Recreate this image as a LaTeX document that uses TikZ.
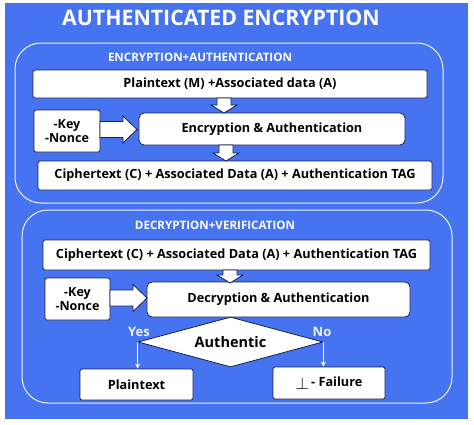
\documentclass[tikz,border=0pt]{standalone}
\usepackage{fontspec}
\setmainfont{Open Sans}
\usetikzlibrary{shapes.geometric,arrows.meta,calc}
\definecolor{bgblue}{RGB}{70,115,240}
\definecolor{navy}{RGB}{25,30,75}
\newcommand\blkdown[3]{% x, ytop, ybottom
  \pgfmathsetmacro\hy{#3-8}
  \draw[blk] (#1-7,#2) -- (#1+7,#2) -- (#1+7,\hy) -- (#1+13,\hy) -- (#1,#3)
    -- (#1-13,\hy) -- (#1-7,\hy) -- cycle;}
\newcommand\blkright[3]{% y, xleft, xright
  \pgfmathsetmacro\hx{#3-14}
  \draw[blk] (#2,#1-8) -- (\hx,#1-8) -- (\hx,#1-13.5) -- (#3,#1) -- (\hx,#1+13.5)
    -- (\hx,#1+8) -- (#2,#1+8) -- cycle;}
\begin{document}
\begin{tikzpicture}[x=1pt,y=-1pt,
  box/.style={draw=navy, fill=white, line width=0.8pt, rounded corners=1.5pt, inner sep=0pt,
    font=\bfseries\fontsize{12.7}{15}\selectfont, text=black, align=center},
  rbox/.style={box, rounded corners=5pt},
  frame/.style={draw=white!92!bgblue, line width=1pt, rounded corners=26pt},
  title/.style={text=white, font=\bfseries\fontsize{21.3}{25}\selectfont, inner sep=0pt},
  subtitle/.style={text=white, font=\bfseries\fontsize{11.6}{14}\selectfont, inner sep=0pt},
  label/.style={text=white!90!bgblue, font=\bfseries\fontsize{13}{15}\selectfont, inner sep=0pt},
  blk/.style={draw=navy, fill=white, line width=0.8pt, line join=miter},
  thin/.style={draw=white, line width=1.4pt, -{Stealth[length=5pt,width=5pt]}}
]
\useasboundingbox (0,0) rectangle (474,424);
\fill[white] (0,0) rectangle (474,424);
\fill[bgblue] (5,3) rectangle (468,419);

\node[title] (ttl) at (221,18) {AUTHENTICATED ENCRYPTION};

% upper frame
\draw[frame] (15,43) rectangle (443,203);
\node[subtitle] (enclbl) at (200,57) {ENCRYPTION+AUTHENTICATION};
\node[box, minimum width=394pt, minimum height=28pt] (plain) at (230,84) {Plaintext (M) +Associated data (A)};
\node[box, minimum width=66pt, minimum height=42pt, font=\bfseries\fontsize{12.5}{14}\selectfont] (key1) at (67,131) {-Key\\-Nonce};
\node[rbox, minimum width=266pt, minimum height=32pt] (enc) at (272,129) {Encryption \& Authentication};
\node[box, minimum width=394pt, minimum height=29pt] (ciph1) at (235,175.5) {Ciphertext (C) + Associated Data (A) + Authentication TAG};
\blkdown{224}{98}{113}
\blkdown{226}{145}{161}
\blkright{129.5}{100}{137}

% lower frame
\draw[frame] (22,210) rectangle (452,403);
\node[subtitle] (declbl) at (215,225) {DECRYPTION+VERIFICATION};
\node[box, minimum width=387pt, minimum height=30pt] (ciph2) at (236.5,255) {Ciphertext (C) + Associated Data (A) + Authentication TAG};
\node[box, minimum width=65pt, minimum height=42pt, font=\bfseries\fontsize{12.5}{14}\selectfont] (key2) at (77.5,299) {-Key\\-Nonce};
\node[rbox, minimum width=263pt, minimum height=35pt] (dec) at (278.5,299.5) {Decryption \& Authentication};
\blkdown{230}{270}{283}
\blkright{298}{110}{147}
\node[diamond, draw=navy, fill=white, line width=0.8pt, aspect=3.7, inner sep=0pt,
  minimum width=185pt, minimum height=50pt, font=\bfseries\fontsize{14.5}{17}\selectfont] (auth) at (230.5,342) {Authentic};
\node[box, minimum width=113pt, minimum height=31pt] (pout) at (136.5,384.5) {Plaintext};
\node[box, minimum width=112pt, minimum height=32pt] (fail) at (329,383) {\raisebox{-3pt}{\fontsize{18}{18}\selectfont$\perp$}\,- Failure};
\draw[thin] (auth.west) -- (auth.west |- pout.north);
\draw[thin] (auth.east) -- (auth.east |- fail.north);
\node[label] (yes) at (139,332) {Yes};
\node[label] (no) at (322,332) {No};
\end{tikzpicture}
\end{document}
